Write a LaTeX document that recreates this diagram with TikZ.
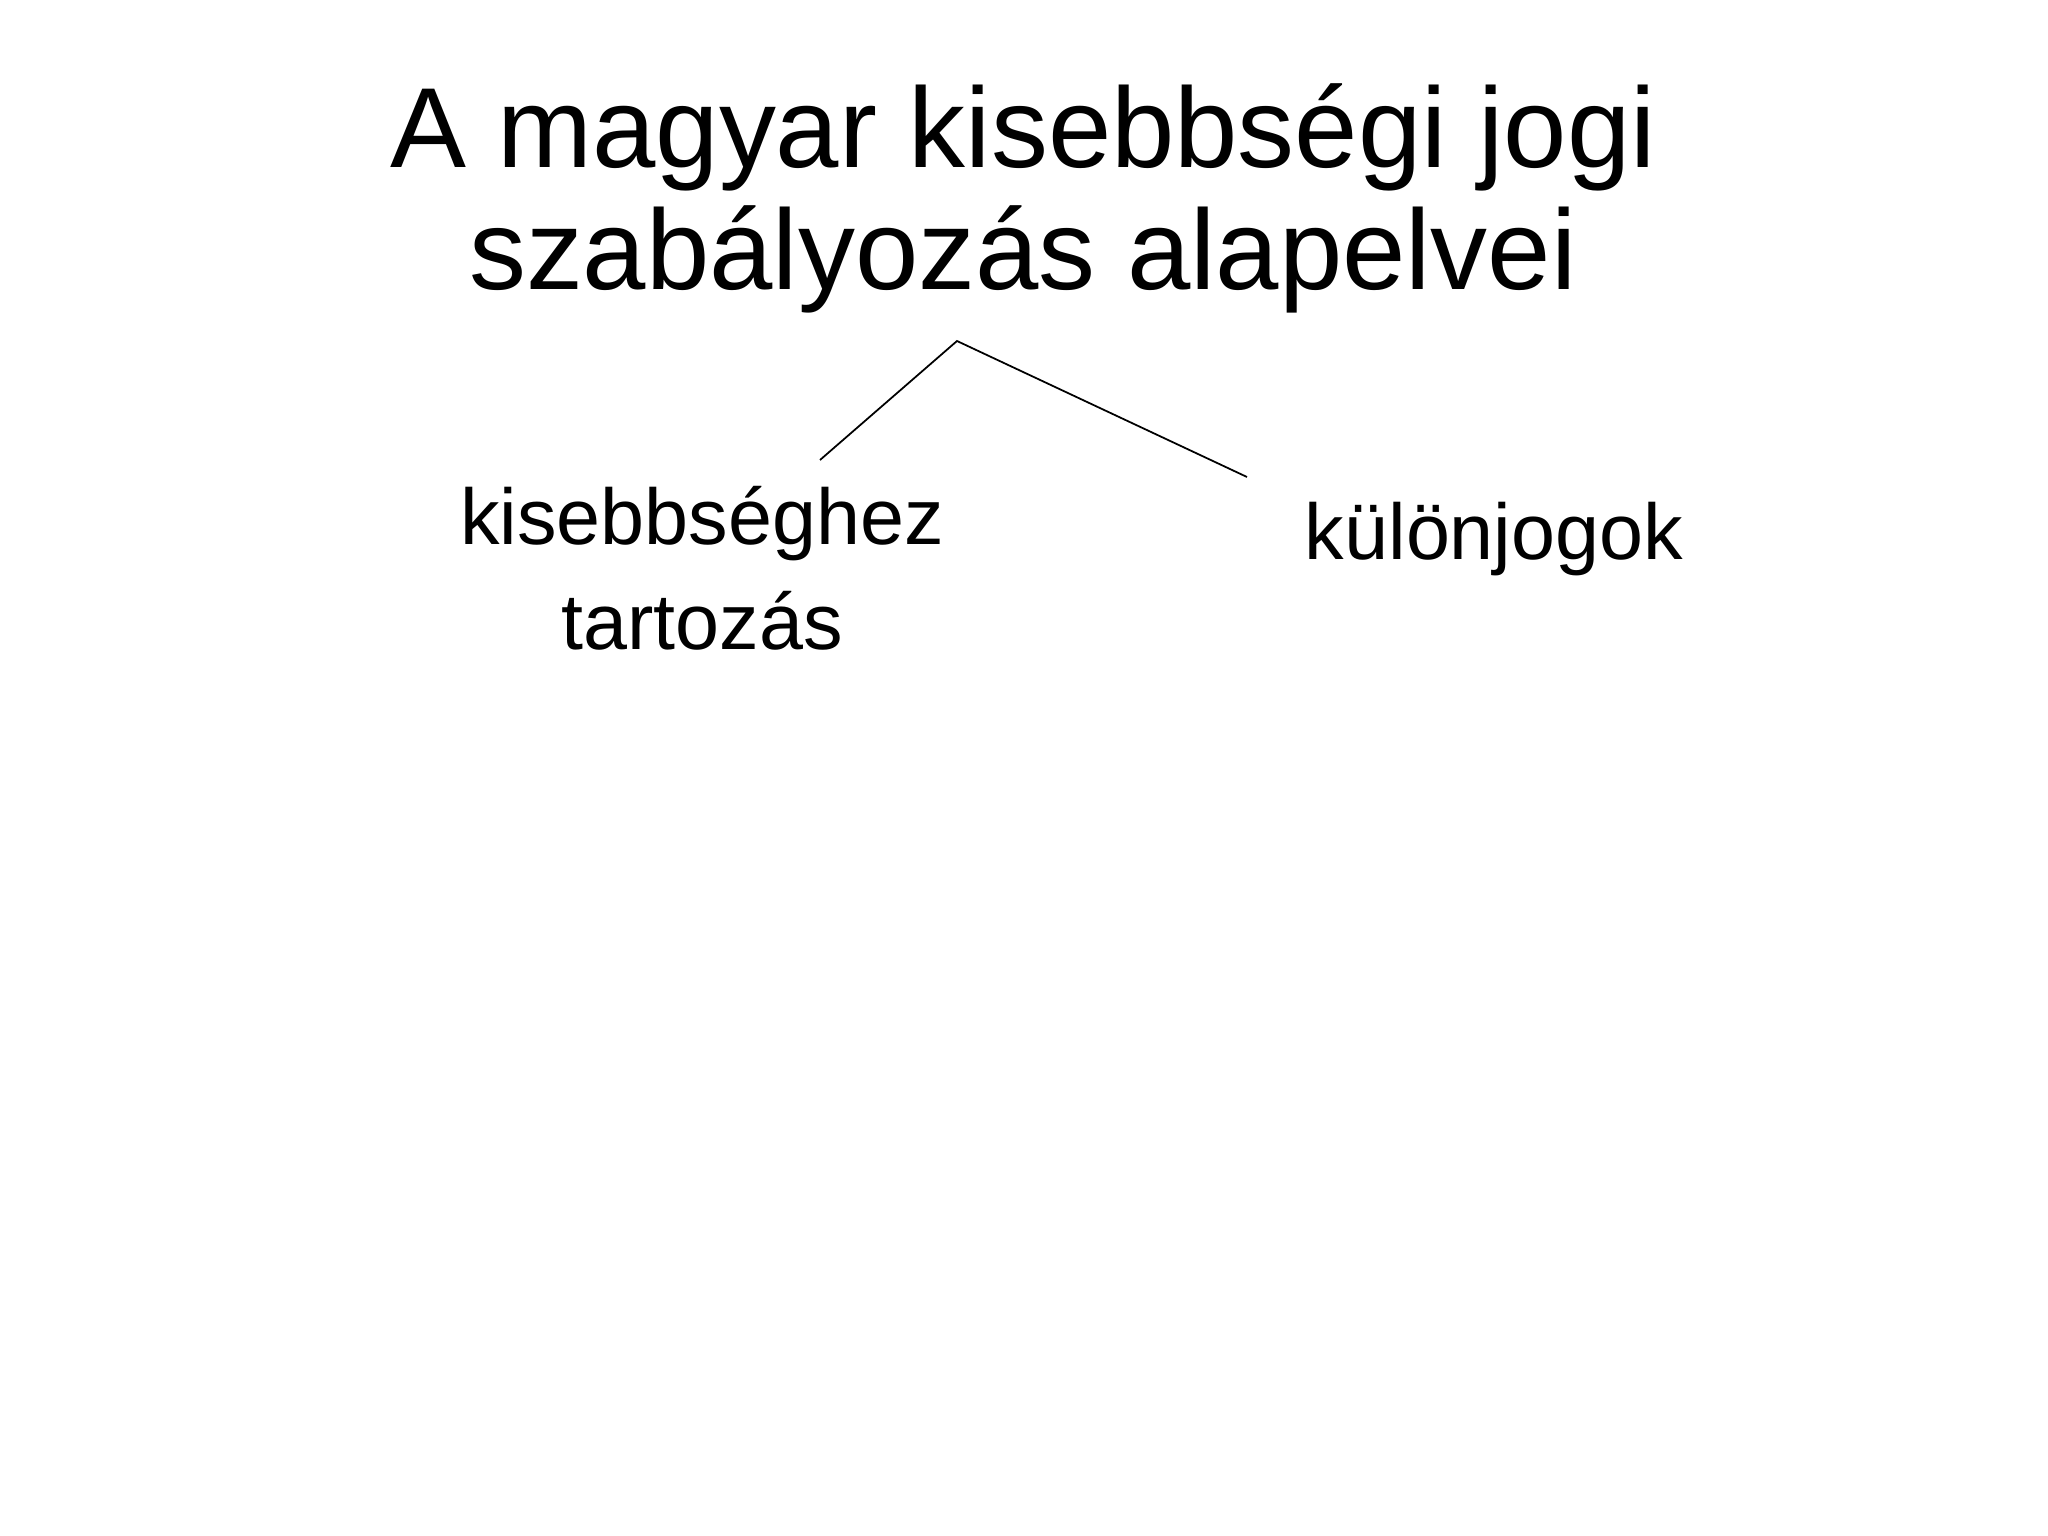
\documentclass[tikz,border=0pt]{standalone}
\usepackage{fontspec}
\setmainfont{Liberation Sans}
\usepackage{tikz}
\usetikzlibrary{positioning}
\tikzstyle{titel} = [align=center, inner sep=0pt, font=\fontsize{32.4}{34.8}\selectfont]
\tikzstyle{ag} = [align=center, inner sep=0pt, font=\fontsize{22.5}{29.6}\selectfont]
\tikzstyle{link} = [line width=0.5pt, black]

\begin{document}
\begin{tikzpicture}
      \useasboundingbox (0,0) rectangle (20.48,-15.36);
      \node [titel, anchor=base] (cim) at (10.23,-2.90) {A magyar kisebbségi jogi\\szabályozás alapelvei};
      \node [ag, anchor=base] (tartozas) at (7.02,-6.49) {kisebbséghez\\tartozás};
      \node [ag, anchor=base] (kulonjog) at (14.94,-5.59) {különjogok};
      % elagazas
      \coordinate (fork) at (9.57,-3.41);
      \coordinate (balveg) at (8.20,-4.60);
      \coordinate (jobbveg) at (12.47,-4.77);
      \draw [link] (balveg) -- (fork) -- (jobbveg);
\end{tikzpicture}
\end{document}
